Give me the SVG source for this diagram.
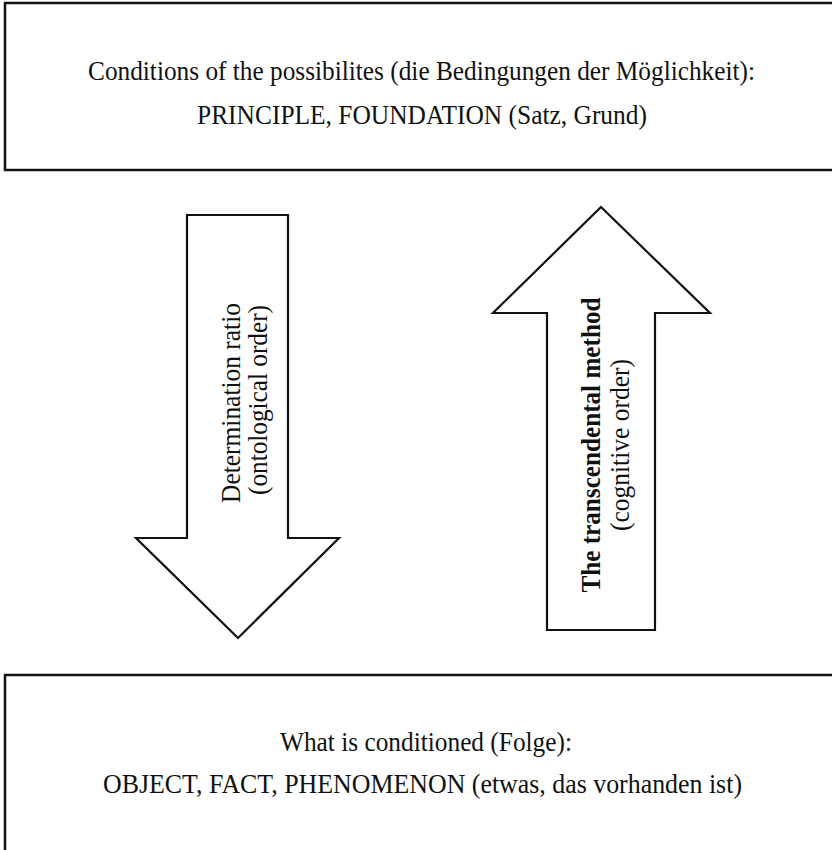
<svg xmlns="http://www.w3.org/2000/svg" width="832" height="850" viewBox="0 0 832 850">
<style>
.box{fill:#fff;stroke:#111;stroke-width:2.5}
.arr{fill:#fff;stroke:#111;stroke-width:2.2;stroke-linejoin:miter}
.t{font-family:"Liberation Serif","Times New Roman",serif;font-size:28px;fill:#111;text-anchor:middle}
.b{font-weight:bold}
</style>
<rect width="832" height="850" fill="#fff"/>
<g id="top-box">
<rect class="box" x="5" y="3" width="840" height="167"/>
<text class="t" x="421.5" y="80" textLength="667" lengthAdjust="spacingAndGlyphs">Conditions of the possibilites (die Bedingungen der Möglichkeit):</text>
<text class="t" x="422" y="124" textLength="450" lengthAdjust="spacingAndGlyphs">PRINCIPLE, FOUNDATION (Satz, Grund)</text>
</g>
<g id="bottom-box">
<rect class="box" x="5" y="675" width="840" height="190"/>
<text class="t" x="426" y="751" textLength="292" lengthAdjust="spacingAndGlyphs">What is conditioned (Folge):</text>
<text class="t" x="422.5" y="793" textLength="639" lengthAdjust="spacingAndGlyphs">OBJECT, FACT, PHENOMENON (etwas, das vorhanden ist)</text>
</g>
<g id="connectors">
<g id="down-arrow">
<polygon class="arr" points="187,215 288,215 288,538 339,538 238,638 136,538 187,538"/>
<text class="t" transform="translate(240,403) rotate(-90)" textLength="200" lengthAdjust="spacingAndGlyphs">Determination ratio</text>
<text class="t" transform="translate(267,400) rotate(-90)" textLength="190" lengthAdjust="spacingAndGlyphs">(ontological order)</text>
</g>
<g id="up-arrow">
<polygon class="arr" points="601,207 710,313 655,313 655,630 547,630 547,313 493,313"/>
<text class="t b" transform="translate(600,445) rotate(-90)" textLength="295" lengthAdjust="spacingAndGlyphs">The transcendental method</text>
<text class="t" transform="translate(629,445) rotate(-90)" textLength="172" lengthAdjust="spacingAndGlyphs">(cognitive order)</text>
</g>
</g>
</svg>
